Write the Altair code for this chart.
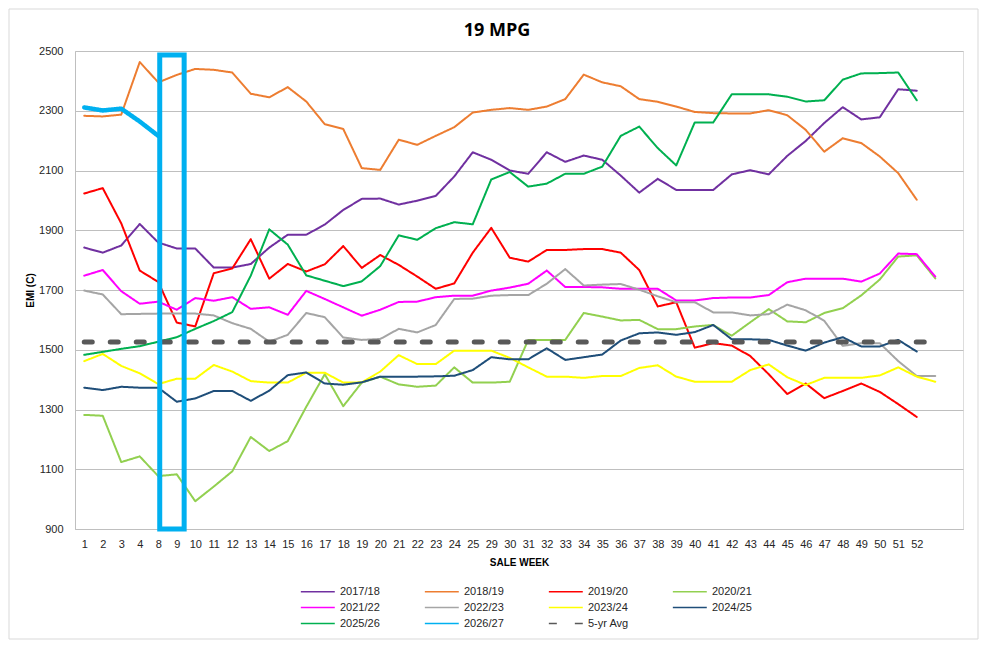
import altair as alt
import pandas as pd

# ---- data ----
week_labels = ["1", "2", "3", "4", "8", "9", "10", "11", "12", "13", "14", "15",
               "16", "17", "18", "19", "20", "21", "22", "23", "24", "25", "29",
               "30", "31", "32", "33", "34", "35", "36", "37", "38", "39", "40",
               "41", "42", "43", "44", "45", "46", "47", "48", "49", "50", "51", "52"]

series_names = ["2017/18", "2018/19", "2019/20", "2020/21",
                "2021/22", "2022/23", "2023/24", "2024/25",
                "2025/26", "2026/27", "5-yr Avg"]

s_2017_18 = [1842, 1825, 1849, 1921, 1859, 1839, 1839, 1775, 1775, 1787, 1842, 1885,
             1885, 1919, 1968, 2005, 2006, 1986, 1999, 2015, 2080, 2161, 2136, 2100,
             2089, 2161, 2129, 2150, 2136, 2083, 2026, 2072, 2035, 2035, 2035, 2087,
             2101, 2087, 2149, 2199, 2259, 2312, 2271, 2278, 2372, 2367]
s_2018_19 = [2283, 2281, 2287, 2463, 2395, 2420, 2440, 2437, 2428, 2357, 2345, 2379,
             2331, 2255, 2239, 2108, 2102, 2203, 2186, 2216, 2245, 2294, 2303, 2309,
             2303, 2314, 2339, 2421, 2395, 2382, 2339, 2330, 2314, 2296, 2292, 2291,
             2291, 2302, 2285, 2236, 2163, 2208, 2192, 2147, 2091, 2002]
s_2019_20 = [2023, 2041, 1923, 1765, 1727, 1591, 1578, 1756, 1772, 1870, 1738, 1787,
             1762, 1786, 1847, 1774, 1817, 1784, 1745, 1704, 1722, 1825, 1908, 1808,
             1795, 1834, 1834, 1837, 1837, 1825, 1767, 1645, 1659, 1507, 1522, 1514,
             1479, 1418, 1352, 1387, 1338, 1362, 1387, 1359, 1318, 1275]
s_2020_21 = [1282, 1279, 1124, 1143, 1077, 1083, 993, 1042, 1093, 1208, 1161, 1194,
             1309, 1418, 1311, 1390, 1410, 1384, 1376, 1380, 1441, 1390, 1390, 1393,
             1533, 1533, 1533, 1623, 1611, 1598, 1600, 1569, 1569, 1578, 1583, 1547,
             1592, 1636, 1595, 1592, 1623, 1639, 1682, 1735, 1812, 1816, 1739]
s_2021_22 = [1748, 1767, 1696, 1654, 1661, 1634, 1673, 1664, 1676, 1637, 1642, 1617,
             1697, 1670, 1642, 1614, 1634, 1660, 1661, 1676, 1681, 1681, 1698, 1708,
             1721, 1765, 1710, 1710, 1709, 1704, 1704, 1704, 1665, 1665, 1673, 1675,
             1675, 1683, 1726, 1738, 1738, 1738, 1728, 1755, 1822, 1820, 1745]
s_2022_23 = [1698, 1685, 1619, 1620, 1621, 1621, 1621, 1615, 1589, 1570, 1527, 1550,
             1623, 1609, 1541, 1533, 1536, 1570, 1558, 1583, 1670, 1671, 1681, 1683,
             1683, 1721, 1770, 1715, 1718, 1720, 1701, 1679, 1659, 1659, 1625, 1625,
             1615, 1619, 1651, 1632, 1597, 1513, 1522, 1522, 1462, 1412, 1412]
s_2023_24 = [1462, 1486, 1446, 1421, 1385, 1403, 1403, 1449, 1427, 1395, 1390, 1390,
             1423, 1423, 1390, 1391, 1427, 1482, 1452, 1452, 1497, 1497, 1497, 1473,
             1441, 1410, 1410, 1406, 1412, 1412, 1439, 1448, 1410, 1393, 1393, 1393,
             1432, 1451, 1408, 1382, 1406, 1406, 1406, 1414, 1441, 1410, 1393]
s_2024_25 = [1373, 1365, 1376, 1373, 1373, 1326, 1337, 1362, 1362, 1329, 1363, 1415,
             1424, 1387, 1383, 1391, 1410, 1410, 1410, 1411, 1413, 1432, 1475, 1468,
             1468, 1505, 1466, 1475, 1484, 1531, 1555, 1558, 1550, 1559, 1583, 1535,
             1535, 1533, 1514, 1497, 1524, 1542, 1511, 1511, 1533, 1494]
s_2025_26 = [1483, 1493, 1503, 1512, 1527, 1542, 1570, 1596, 1626, 1748, 1903, 1852,
             1749, 1731, 1713, 1729, 1780, 1883, 1868, 1907, 1927, 1920, 2070, 2095,
             2046, 2056, 2089, 2089, 2113, 2216, 2247, 2175, 2117, 2261, 2261, 2355,
             2355, 2355, 2347, 2331, 2335, 2404, 2425, 2426, 2428, 2335]
s_2026_27 = [2311, 2301, 2307, 2264, 2216]
s_5yr_avg = [1526, 1526, 1526, 1526, 1526, 1526, 1526, 1526, 1526, 1526, 1526, 1526,
             1526, 1526, 1526, 1526, 1526, 1526, 1526, 1526, 1526, 1526, 1526, 1526,
             1526, 1526, 1526, 1526, 1526, 1526, 1526, 1526, 1526, 1526, 1526, 1526,
             1526, 1526, 1526, 1526, 1526, 1526, 1526, 1526, 1526, 1526, 1526]

all_series = [s_2017_18, s_2018_19, s_2019_20, s_2020_21, s_2021_22, s_2022_23,
              s_2023_24, s_2024_25, s_2025_26, s_2026_27, s_5yr_avg]

# ---- styles ----
series_colors = ["#7030A0", "#ED7D31", "#FF0000", "#92D050",
                 "#FF00FF", "#A5A5A5", "#FFFF00", "#1F4E79",
                 "#00B050", "#00B0F0", "#595959"]
series_dashes = [[1, 0]] * 10 + [[8, 18]]
width_expr = ("(datum.s || datum.value) === '2026/27' ? 4.5 : "
              "((datum.s || datum.value) === '5-yr Avg' ? 5 : 2)")

# highlight box around weeks 8-9 (index units / EMI units)
box = pd.DataFrame({"x0": [4.08], "x1": [5.4], "y0": [900], "y1": [2487]})

rows = []
for name, vals in zip(series_names, all_series):
    for i, v in enumerate(vals):
        rows.append({"i": i, "v": v, "s": name})
df = pd.DataFrame(rows)

label_expr = "[" + ",".join("'%s'" % w for w in week_labels) + "][datum.value]"

FONT = "Liberation Sans"

legend_encodings = [
    {"symbols": {"update": {"strokeWidth": {"signal": width_expr},
                            "strokeCap": {"value": "round"}}}},
    {"symbols": {"strokeWidth": {"signal": width_expr},
                 "strokeCap": {"value": "round"}}},
    None,
]


def build(enc):
    extra = {}
    if enc is not None:
        extra["encode"] = enc
    legend = alt.Legend(
        title=None, orient="none", legendX=225, legendY=534, columns=4,
        direction="horizontal", gridAlign="all",
        symbolType="M-1,0H5", symbolSize=128, labelOffset=27, columnPadding=40,
        rowPadding=4, labelFontSize=11, labelFont=FONT, labelColor="#262626",
        **extra,
    )

    x_enc = alt.X(
        "i:Q",
        scale=alt.Scale(domain=[-0.5, 47.5], nice=False, zero=False),
        axis=alt.Axis(
            values=list(range(len(week_labels))), labelExpr=label_expr,
            labelOverlap=False, tickCount=60,
            title="SALE WEEK", grid=False, ticks=False, domain=True,
            domainColor="#bfbfbf", labelFontSize=11, labelFont=FONT,
            labelColor="#262626", labelPadding=9, titleFont=FONT,
            titleFontSize=10, titleFontWeight="bold", titlePadding=8,
            titleColor="#000000", labelFlush=False,
        ),
    )
    y_enc = alt.Y(
        "v:Q",
        scale=alt.Scale(domain=[900, 2500], nice=False, zero=False),
        axis=alt.Axis(
            values=[900, 1100, 1300, 1500, 1700, 1900, 2100, 2300, 2500],
            format="d", tickCount=10,
            title="EMI (C)", grid=True, gridColor="#bfbfbf", ticks=False,
            domain=True, domainColor="#bfbfbf", labelFontSize=11, labelFont=FONT,
            labelColor="#262626", labelPadding=12, titleFont=FONT,
            titleFontSize=10, titleFontWeight="bold", titlePadding=3,
            titleColor="#000000",
        ),
    )

    lines = alt.Chart(df).mark_line(
        strokeCap="round", strokeJoin="round", strokeWidth={"expr": width_expr}
    ).encode(
        x=x_enc,
        y=y_enc,
        color=alt.Color("s:N", scale=alt.Scale(domain=series_names, range=series_colors),
                        legend=legend, sort=series_names),
        strokeDash=alt.StrokeDash("s:N", scale=alt.Scale(domain=series_names, range=series_dashes),
                                  legend=legend, sort=series_names),
        order=alt.Order("i:Q"),
    )

    hl = alt.Chart(box).mark_rect(fillOpacity=0, stroke="#00B0F0", strokeWidth=5).encode(
        x="x0:Q", x2="x1:Q", y="y0:Q", y2="y1:Q"
    )

    frame = alt.Chart(pd.DataFrame({"a": [0]})).mark_rect(
        fillOpacity=0, stroke="#d9d9d9", strokeWidth=1
    ).encode(
        x=alt.value(-66), x2=alt.value(903), y=alt.value(-42), y2=alt.value(588)
    )

    return alt.layer(frame, lines, hl).properties(
        width=888, height=478,
        autosize=alt.AutoSizeParams(type="none"),
        padding={"left": 67, "top": 43, "right": 16, "bottom": 111},
        title=alt.TitleParams("19 MPG", font="Open Sans", fontSize=18, fontWeight="bold",
                              color="#000000", offset=-31, dx=-22, frame="group"),
    ).configure_view(stroke=None).configure(background="white")


for enc in legend_encodings:
    try:
        chart = build(enc)
        chart.save("out.html", embed_options={"renderer": "svg", "actions": False})
        break
    except Exception:
        continue
